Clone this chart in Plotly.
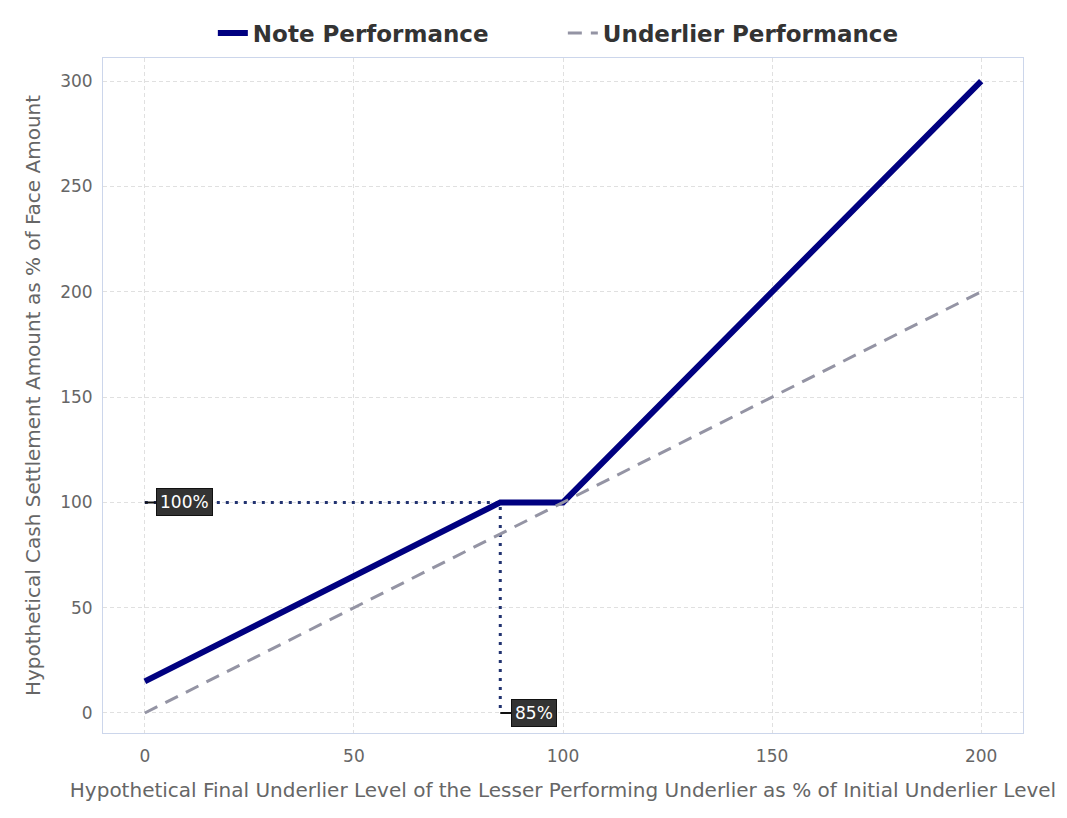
import plotly.graph_objects as go

# payoff points
note_x = [0, 85, 100, 200]
note_y = [15, 100, 100, 300]
under_x = [0, 200]
under_y = [0, 200]

barrier_level = 85
floor_level = 100

x_ticks = [0, 50, 100, 150, 200]
y_ticks = [0, 50, 100, 150, 200, 250, 300]

fig = go.Figure()

# guide lines for the 100% / 85% markers
fig.add_trace(go.Scatter(
    x=[0, barrier_level, barrier_level], y=[floor_level, floor_level, 0],
    mode="lines", line=dict(color="#223370", width=3, dash="3px,6px"),
    showlegend=False, hoverinfo="skip"
))

fig.add_trace(go.Scatter(
    x=note_x, y=note_y, mode="lines", name="<b>Note Performance</b>",
    line=dict(color="#000080", width=6)
))
fig.add_trace(go.Scatter(
    x=under_x, y=under_y, mode="lines", name="<b>Underlier Performance</b>",
    line=dict(color="#9494a4", width=3, dash="14px,9px")
))

for x, y, label in [(0, floor_level, "100%"), (barrier_level, 0, "85%")]:
    fig.add_annotation(
        x=x, y=y, text=label, showarrow=True, arrowhead=0, arrowwidth=2,
        arrowcolor="#111", ax=11, ay=0, xanchor="left",
        bgcolor="#333333", bordercolor="#111", borderwidth=1, borderpad=3,
        font=dict(color="white", size=17, family="DejaVu Sans")
    )

axis_common = dict(
    showgrid=True, gridcolor="#e0e0e0", griddash="4px,3px", gridwidth=1,
    zeroline=False, showline=True, linecolor="#ccd6eb", linewidth=1, mirror=True,
    tickfont=dict(color="#666666", size=17), ticks="",
)

fig.update_xaxes(
    range=[-10, 210], tickvals=x_ticks, ticklabelstandoff=8,
    title=dict(text="Hypothetical Final Underlier Level of the Lesser Performing Underlier as % of Initial Underlier Level",
               font=dict(color="#666666", size=20), standoff=17),
    **axis_common
)
fig.update_yaxes(
    range=[-9.5, 311], tickvals=y_ticks, ticklabelstandoff=6,
    title=dict(text="Hypothetical Cash Settlement Amount as % of Face Amount",
               font=dict(color="#666666", size=20), standoff=14),
    **axis_common
)

fig.update_layout(
    width=1067, height=818,
    margin=dict(l=95, r=52, t=50, b=93, autoexpand=False),
    plot_bgcolor="white", paper_bgcolor="white",
    font=dict(family="DejaVu Sans"),
    legend=dict(orientation="h", xref="container", yref="container",
                x=0.52, xanchor="center", y=0.9694, yanchor="middle",
                entrywidth=305,
                font=dict(size=23, color="#333333", family="DejaVu Sans")),
)

fig.write_html("out.html")
